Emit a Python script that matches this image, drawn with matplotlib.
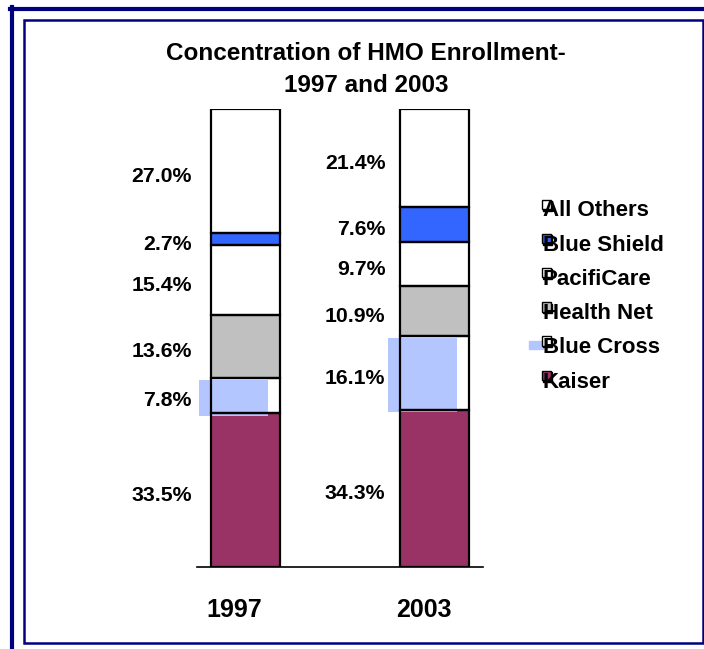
import matplotlib
matplotlib.use("Agg")
import matplotlib.pyplot as plt
import matplotlib.transforms as mtransforms
from matplotlib.patches import Rectangle
from matplotlib.lines import Line2D
import numpy as np

plt.rcParams['font.family'] = ['Liberation Sans', 'DejaVu Sans']
plt.rcParams['font.weight'] = 'bold'

years = ["1997", "2003"]
plans = ["Kaiser", "Blue Cross", "Health Net", "PacifiCare", "Blue Shield", "All Others"]
share_1997 = [33.5, 7.8, 13.6, 15.4, 2.7, 27.0]
share_2003 = [34.3, 16.1, 10.9, 9.7, 7.6, 21.4]
colors = ["#993366", "#FFFFFF", "#C0C0C0", "#FFFFFF", "#3366FF", "#FFFFFF"]
light_blue = "#B3C6FF"

W, H = 704, 649
fig = plt.figure(figsize=(W / 100, H / 100), dpi=100)

def fx(x):
    return x / W

def fy(y):
    return 1 - y / H

ax = fig.add_axes([fx(197), fy(566.5), (483 - 197) / W, (566.5 - 109) / H])

data = np.array([share_1997, share_2003]) / 100.0
x = np.arange(len(years))
width = 0.365
bottoms = np.zeros(len(years))
shift = mtransforms.offset_copy(ax.transData, fig=fig, x=-12, y=-2.5, units='dots')

for i, plan in enumerate(plans):
    vals = data[:, i]
    ax.bar(x, vals, width, bottom=bottoms, color=colors[i], edgecolor='none', zorder=1)
    if plan == "Blue Cross":
        ax.bar(x, vals, width, bottom=bottoms, color=light_blue, edgecolor='none',
               zorder=2, transform=shift)
    ax.bar(x, vals, width, bottom=bottoms, fill=False, edgecolor='black', lw=1.6, zorder=3)
    for j in range(len(years)):
        ax.text(x[j] - 0.285 + 0.025 * j, bottoms[j] + vals[j] / 2 - 0.012,
                f"{vals[j] * 100:.1f}%",
                ha='right', va='center', fontsize=15.3, fontweight='bold', clip_on=False)
    bottoms = bottoms + vals

ax.set_xlim(-0.2566, 1.2566)
ax.set_ylim(0, 1)
ax.set_yticks([])
ax.set_xticks(x)
ax.set_xticklabels(years, fontsize=18, fontweight='bold')
ax.tick_params(axis='x', length=0, pad=23)
for lab in ax.get_xticklabels():
    lab.set_transform(lab.get_transform() +
                      mtransforms.ScaledTranslation(-11 / 100, 0, fig.dpi_scale_trans))
for s in ['top', 'right', 'left']:
    ax.spines[s].set_visible(False)
ax.spines['bottom'].set_linewidth(1.2)
ax.patch.set_visible(False)

# title
fig.text(fx(366), fy(54), "Concentration of HMO Enrollment-", ha='center', va='center',
         fontsize=17.5, fontweight='bold')
fig.text(fx(366), fy(86), "1997 and 2003", ha='center', va='center',
         fontsize=17.5, fontweight='bold')

# legend, drawn by hand (text overlaps the markers like the original)
legend_order = ["All Others", "Blue Shield", "PacifiCare", "Health Net", "Blue Cross", "Kaiser"]
for k, name in enumerate(legend_order):
    yc = 211 + k * 34.2
    c = colors[plans.index(name)]
    if name == "Blue Cross":
        fig.patches.append(Rectangle((fx(529), fy(yc + 1)), 14 / W, 8 / H,
                                     transform=fig.transFigure, color=light_blue, zorder=1))
    fig.patches.append(Rectangle((fx(543), fy(yc - 0.5)), 9 / W, 9.5 / H,
                                 transform=fig.transFigure, color='black', zorder=2))
    fig.patches.append(Rectangle((fx(541.5), fy(yc - 2)), 9 / W, 9.5 / H,
                                 transform=fig.transFigure, facecolor=c,
                                 edgecolor='black', lw=1.0, zorder=3))
    fig.text(fx(543), fy(yc), name, ha='left', va='center', fontsize=16,
             fontweight='bold', zorder=4)

# navy frames
navy = "#000080"
fig.add_artist(Line2D([fx(10), fx(704)], [fy(9), fy(9)], color=navy, lw=3.0,
                      transform=fig.transFigure))
fig.add_artist(Line2D([fx(12), fx(12)], [fy(7), fy(649)], color=navy, lw=3.0,
                      transform=fig.transFigure))
fig.patches.append(Rectangle((fx(23.5), fy(642.5)), (702.5 - 23.5) / W, (642.5 - 20) / H,
                             transform=fig.transFigure, fill=False, edgecolor=navy, lw=1.8))

fig.savefig("out.png", dpi=100)
